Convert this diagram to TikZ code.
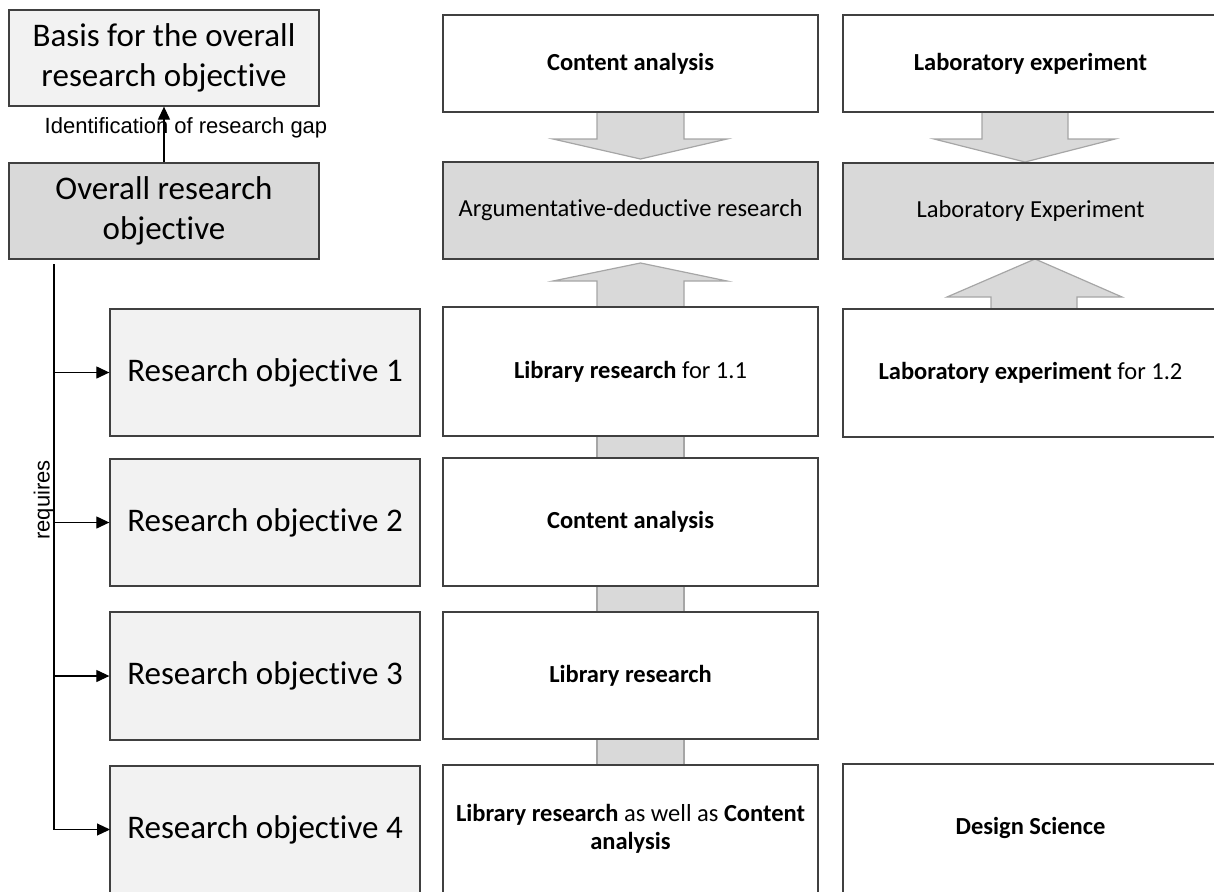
\documentclass[tikz,border=0pt]{standalone}
\usepackage{fontspec}
\setmainfont{Carlito}[Ligatures=NoCommon]
\newfontfamily\arialfont{Liberation Sans}
\usetikzlibrary{arrows.meta,calc}

\definecolor{boxline}{HTML}{404040}
\definecolor{lightfill}{HTML}{F2F2F2}
\definecolor{darkfill}{HTML}{D9D9D9}
\definecolor{flowline}{HTML}{A6A6A6}

\begin{document}
\begin{tikzpicture}[x=1pt,y=-1pt,
  box/.style={draw=boxline, line width=1.3pt, inner sep=0pt, align=center},
  leftbox/.style={box, minimum width=310pt, font=\fontsize{33}{40}\selectfont},
  methodbox/.style={box, fill=white, minimum width=375pt, font=\fontsize{24.5}{28}\selectfont},
  openbox/.style={draw=none, outer sep=0pt},
  blockarrow/.style={fill=darkfill, draw=flowline, line width=1.2pt, line join=miter},
  thinarrow/.style={draw=black, line width=1.2pt, -{Triangle[length=13pt,width=12pt]}},
  smalllabel/.style={font=\arialfont\fontsize{22}{26}\selectfont, inner sep=0pt}
]
\useasboundingbox (0,0) rectangle (1214,891);
\clip (0,0) rectangle (1214,891);

% ---- block arrows and connectors of the method columns (drawn beneath the boxes)
% middle column: down arrow, up arrow, connecting bars
\draw[blockarrow] (597,110) -- (684,110) -- (684,139) -- (727,139) -- (640.5,159)
  -- (553,139) -- (597,139) -- cycle;
\draw[blockarrow] (597,309) -- (597,281) -- (553,281) -- (640.5,263) -- (727,281)
  -- (684,281) -- (684,309);
\draw[blockarrow] (597,434) rectangle (684,460);
\draw[blockarrow] (597,584) rectangle (684,614);
\draw[blockarrow] (597,737) rectangle (684,767);
% right column: down arrow, up arrow
\draw[blockarrow] (982,110) -- (1068,110) -- (1068,139) -- (1115,139) -- (1025,162)
  -- (934,139) -- (982,139) -- cycle;
\draw[blockarrow] (991,311) -- (991,297) -- (947,297) -- (1035,259) -- (1122,297)
  -- (1077,297) -- (1077,311);

% ---- left column: objectives
\node[leftbox, fill=lightfill, minimum height=96pt] (basis) at (164,58)
  {Basis for the overall\\research objective};
\node[leftbox, fill=darkfill, minimum height=96pt] (overall) at (164,211)
  {Overall research\\objective};
\node[leftbox, fill=lightfill, minimum height=127pt] (ro1) at (265,372.5) {Research objective 1};
\node[leftbox, fill=lightfill, minimum height=127pt] (ro2) at (265,522.5) {Research objective 2};
\node[leftbox, fill=lightfill, minimum height=128pt] (ro3) at (265,676) {Research objective 3};
\node[leftbox, openbox, fill=lightfill, minimum height=127pt] (ro4) at (265,829.5) {Research objective 4};

% ---- middle column: methods
\node[methodbox, minimum height=97pt] (ca1) at (630.5,63.5) {\textbf{Content analysis}};
\node[methodbox, fill=darkfill, minimum height=97pt] (ad) at (630.5,210.5)
  {Argumentative-deductive research};
\node[methodbox, minimum height=129pt] (lr11) at (630.5,371.5) {\textbf{Library research} for 1.1};
\node[methodbox, minimum height=128pt] (ca2) at (630.5,522) {\textbf{Content analysis}};
\node[methodbox, minimum height=127pt] (lr) at (630.5,675.5) {\textbf{Library research}};
\node[methodbox, openbox, minimum height=127pt] (lrca) at (630.5,828.5)
  {\textbf{Library research} as well as \textbf{Content}\\\textbf{analysis}};

% ---- right column: methods
\node[methodbox, minimum height=97pt] (le1) at (1030.5,63.5) {\textbf{Laboratory experiment}};
\node[methodbox, fill=darkfill, minimum height=96pt] (le2) at (1030.5,211)
  {Laboratory Experiment};
\node[methodbox, minimum height=128pt] (le12) at (1030.5,373) {\textbf{Laboratory experiment} for 1.2};
\node[methodbox, openbox, minimum height=127pt] (ds) at (1030.5,827.5) {\textbf{Design Science}};

% bottom row runs past the lower edge: frame only three sides
\foreach \b in {ro4,lrca,ds}
  \draw[draw=boxline, line width=1.3pt]
    ([yshift=-20pt]\b.south west) -- (\b.north west) -- (\b.north east) -- ([yshift=-20pt]\b.south east);

% ---- thin connectors
\draw[thinarrow] (overall.north) -- (basis.south);
\node[smalllabel] (gaplabel) at (186,128) {Identification of research gap};

\coordinate (spinetop) at (54,264);
\draw[line width=1.2pt] (spinetop) -- (spinetop |- ro4.west);
\foreach \r in {ro1,ro2,ro3,ro4}
  \draw[thinarrow] (spinetop |- \r.west) -- (\r.west);
\node[smalllabel, rotate=90] (reqlabel) at (44,500) {requires};

\end{tikzpicture}
\end{document}
